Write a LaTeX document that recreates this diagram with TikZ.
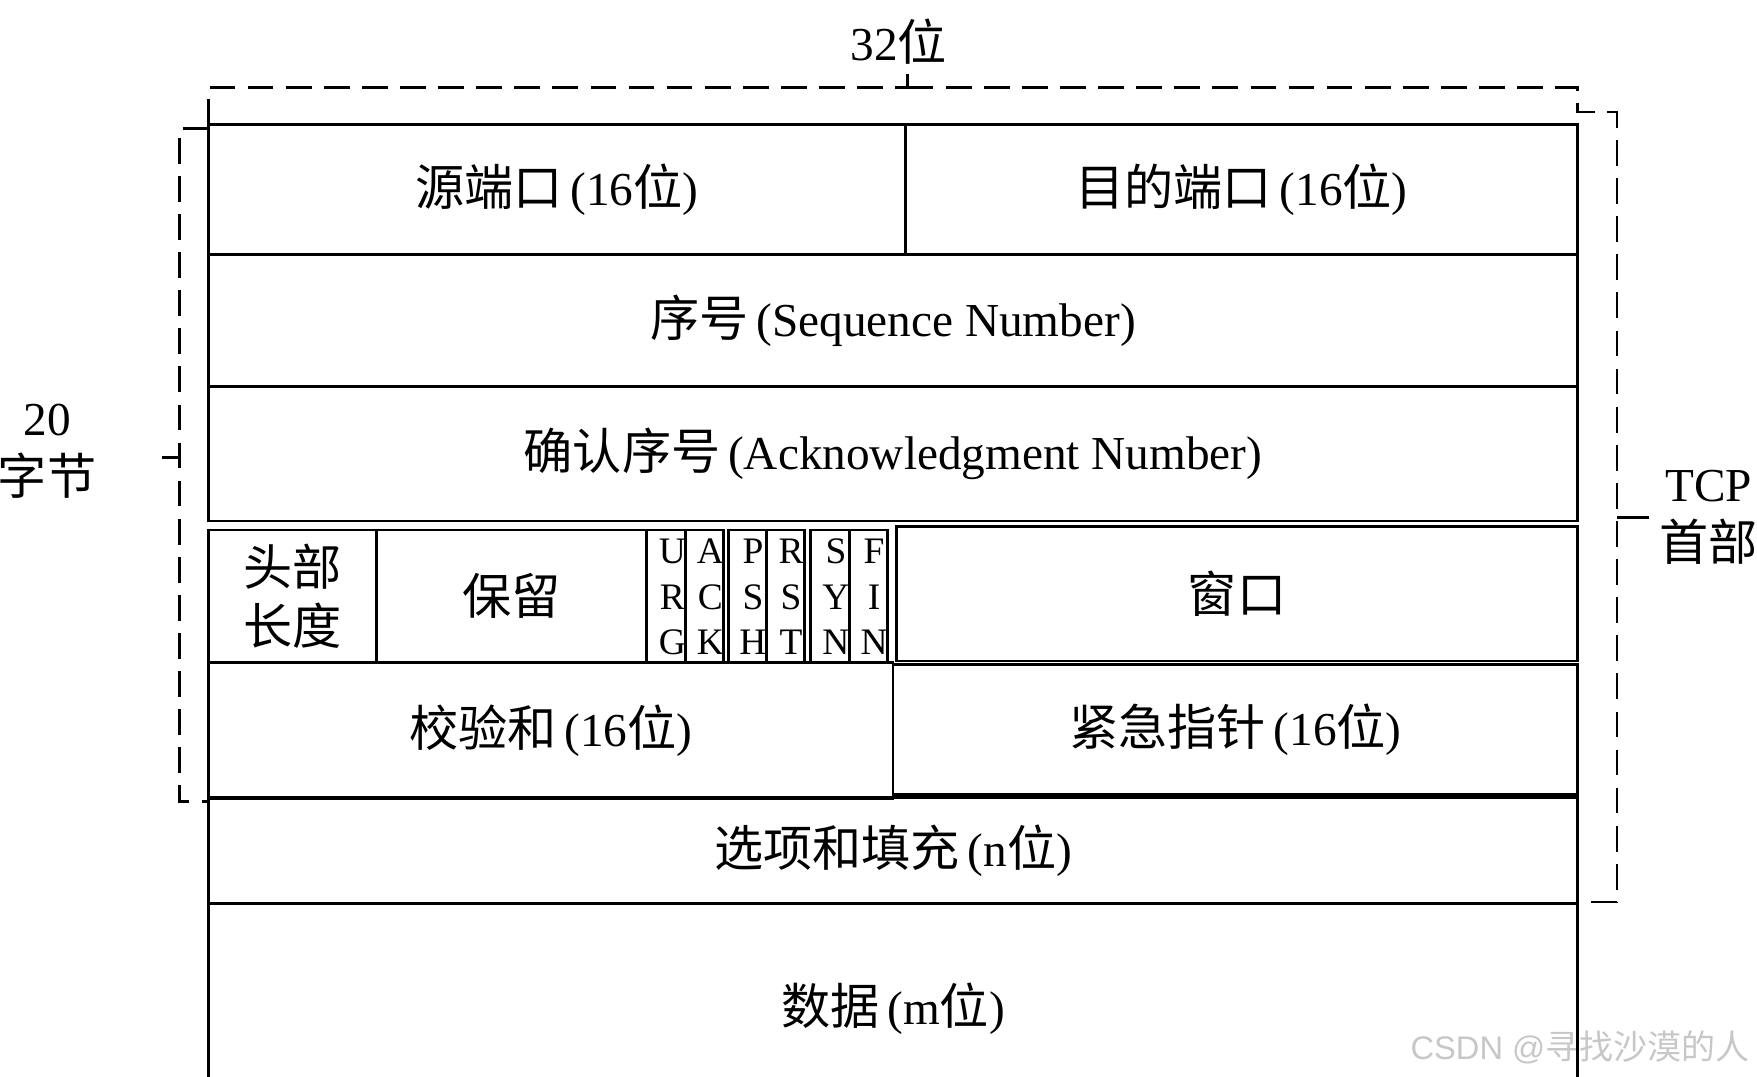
\documentclass[tikz,border=0pt]{standalone}
\usepackage{fontspec}
\setmainfont{Liberation Serif}
\newfontfamily\cjk[Scale=1.04]{Noto Sans CJK SC}
\newfontfamily\wmsans{Liberation Sans}
\newcommand\zh[1]{{\cjk #1}}

\begin{document}
\begin{tikzpicture}[x=.1mm, y=-.1mm,
    cell/.style={line width=.7pt},
    brace/.style={line width=.7pt, dash pattern=on 2.3mm off 1.1mm},
    lbl/.style={font=\fontsize{12}{15}\selectfont, inner sep=0pt, align=center},
    flag/.style={font=\fontsize{9.5}{11}\selectfont, inner sep=0pt}]
    \def\L{186} \def\R{1408}
    \useasboundingbox (0, 0) rectangle (1568, 961);
    \clip (0, 0) rectangle (1568, 961);

    \node[font=\wmsans\fontsize{8.3}{10}\selectfont, text=black!22, inner sep=0pt] (mark) at (1410, 935) {CSDN @\zh{寻找沙漠的人}};

    \draw[cell] (\L, 111) rectangle node[lbl] (src) {\zh{源端口}\,(16\zh{位})} (808, 227);
    \draw[cell] (808, 111) rectangle node[lbl] (dst) {\zh{目的端口}\,(16\zh{位})} (\R, 227);
    \draw[cell] (\L, 227) rectangle node[lbl] (seq) {\zh{序号}\,(Sequence Number)} (\R, 345);
    \draw[cell] (\L, 345) rectangle node[lbl] (ack) {\zh{确认序号}\,(Acknowledgment Number)} (\R, 465);
    \draw[cell] (\L, 473) rectangle node[lbl] (len) {\zh{头部}\\\zh{长度}} (336, 591);
    \draw[cell] (336, 473) rectangle node[lbl] (rsv) {\zh{保留}} (577, 591);
    \foreach \a/\b in {577/612, 612/646, 650/684, 684/718, 723/758, 758/792}
        \draw[cell] (\a, 473) rectangle (\b, 591);
    \foreach \x/\p/\q/\r [count=\i] in {600/U/R/G, 634/A/C/K, 672/P/S/H, 706/R/S/T, 746/S/Y/N, 780/F/I/N} {
        \node[flag] (flag\i a) at (\x, 492) {\p};
        \node[flag] (flag\i b) at (\x, 533) {\q};
        \node[flag] (flag\i c) at (\x, 573) {\r};
    }
    \draw[cell] (800, 470) rectangle node[lbl] (win) {\zh{窗口}} (\R, 590);
    \draw[cell] (\L, 591) rectangle node[lbl] (sum) {\zh{校验和}\,(16\zh{位})} (797, 713);
    \draw[cell] (797, 593) rectangle node[lbl] (urg) {\zh{紧急指针}\,(16\zh{位})} (\R, 709);
    \draw[cell] (\L, 712) rectangle node[lbl] (opt) {\zh{选项和填充}\,(n\zh{位})} (\R, 806);
    \draw[cell] (\L, 806) rectangle node[lbl] (data) {\zh{数据}\,(m\zh{位})} (\R, 994);

    \coordinate (top) at (810, 78);
    \draw[brace] (\L, 111) |- (top) -- ++(0, -20);
    \draw[brace] (top) -| (\R, 100) -- (1443, 100) -- (1443, 805) -- (1410, 805);
    \draw[brace] (\L, 115) -- (160, 115) -- (160, 715) -- (\L, 715);
    \draw[cell] (160, 408) -- (145, 408);
    \draw[cell] (1443, 462) -- (1472, 462);
    \node[lbl] (bits) at (802, 37) {32\zh{位}};
    \node[lbl] (bytes) at (42, 403) {20\\\zh{字节}};
    \node[lbl] (head) at (1525, 462) {TCP\\\zh{首部}};
\end{tikzpicture}
\end{document}
